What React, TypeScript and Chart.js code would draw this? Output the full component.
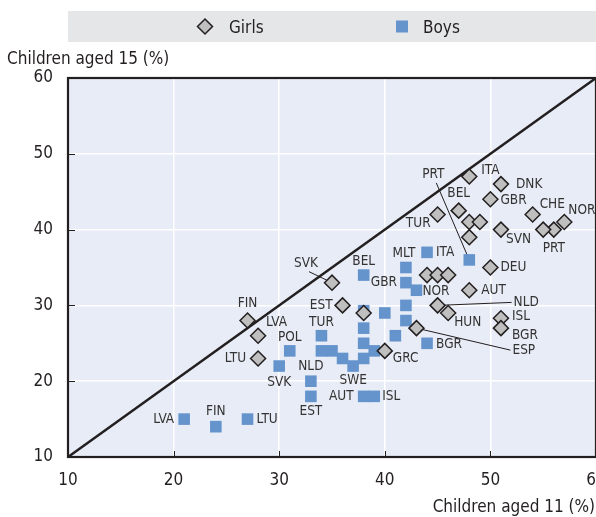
import React, { useEffect, useRef } from "react";
import { Chart, registerables } from "chart.js";

Chart.register(...registerables);

const FONT = "'DejaVu Sans Condensed', 'Liberation Sans Narrow', 'Arial Narrow', sans-serif";

// ---------- data ----------
const seriesNames = ["Girls", "Boys"];
const xAxisTitle = "Children aged 11 (%)";
const yAxisTitle = "Children aged 15 (%)";
const axisMin = 10;
const axisMax = 60;
const axisStep = 10;
const parityLine = [10, 60];

const girlsCountries = [
  "ITA", "DNK", "GBR", "CHE", "NOR", "PRT", "", "SVN", "BEL", "", "", "TUR", "", "DEU", "", "", "",
  "AUT", "NLD", "HUN", "ISL", "BGR", "ESP", "GRC", "", "SVK", "EST", "FIN", "LVA", "LTU",
];
const girlsAge11 = [48, 51, 50, 54, 57, 56, 55, 51, 47, 48, 49, 45, 48, 50, 44, 45, 46, 48, 45, 46, 51, 51, 43, 40, 38, 35, 36, 27, 28, 28];
const girlsAge15 = [47, 46, 44, 42, 41, 40, 40, 40, 42.5, 41, 41, 42, 39, 35, 34, 34, 34, 32, 30, 29, 28.3, 27, 27, 24, 29, 33, 30, 28, 26, 23];

const boysCountries = [
  "PRT", "ITA", "MLT", "BEL", "GBR", "NOR", "", "", "", "", "", "", "BGR", "", "", "", "TUR", "", "", "",
  "SWE", "POL", "SVK", "NLD", "EST", "AUT", "ISL", "LVA", "FIN", "LTU",
];
const boysAge11 = [48, 44, 42, 38, 42, 43, 42, 40, 38, 42, 38, 41, 44, 38, 39, 38, 34, 34, 35, 36, 37, 31, 30, 33, 33, 38, 39, 21, 24, 27];
const boysAge15 = [36, 37, 35, 34, 33, 32, 30, 29, 29.3, 28, 27, 26, 25, 25, 24, 23, 26, 24, 24, 23, 22, 24, 22, 20, 18, 18, 18, 15, 14, 15];

// ---------- label placement (pixel offsets from the marker) ----------
type Place = [number, number, CanvasTextAlign, boolean] | null;
const girlsLabelPlace: Place[] = [
  [12, -6, "left", false], [15, 0, "left", false], [10, 1, "left", false], [7, -10, "left", false],
  [4, -12, "left", false], [0, 19, "center", false], null, [5, 10, "left", false],
  [0, -17, "center", false], null, null, [-7, 9, "right", false], null, [10, 0, "left", false],
  null, null, null, [12, 0, "left", false], [76, -3, "left", true], [6, 10, "left", false],
  [11, -2, "left", false], [11, 7, "left", false], [96, 22, "left", true], [8, 8, "left", false],
  null, [-26, -19, "center", true], [-10, 0, "right", false], [0, -17, "center", false],
  [8, -13, "left", false], [-12, 0, "right", false],
];
const boysLabelPlace: Place[] = [
  [-36, -85, "center", true], [9, 0, "left", false], [-2, -14, "center", false], [0, -14, "center", false],
  [-9, 0, "right", false], [6, 1, "left", false], null, null, null, null, null, null,
  [9, 1, "left", false], null, null, null, [0, -13, "center", false], null, null, null,
  [0, 14, "center", false], [0, -13, "center", false], [0, 16, "center", false], [0, -15, "center", false],
  [0, 15, "center", false], [-10, 0, "right", false], [8, 0, "left", false], [-10, 0, "right", false],
  [0, -15, "center", false], [9, 0, "left", false],
];

// ---------- styles ----------
const GIRL_FILL = "#bfbfbf";
const DARK = "#231f20";
const BOY_FILL = "#6594cd";
const PLOT_BG = "#e8ecf6";
const LEGEND_BG = "#e5e6e7";
const TEXT = "#333333";

const W = 596;
const H = 517;

const toPoints = (xs: number[], ys: number[]) => xs.map((x, i) => ({ x, y: ys[i] }));

const decorPlugin = {
  id: "decor",
  beforeDraw(chart: any) {
    const { ctx, chartArea: a } = chart;
    ctx.save();
    ctx.fillStyle = "#ffffff";
    ctx.fillRect(0, 0, chart.width, chart.height);
    ctx.fillStyle = LEGEND_BG;
    ctx.fillRect(68, 11, chart.width - 68, 31);
    ctx.fillStyle = PLOT_BG;
    ctx.fillRect(a.left, a.top, a.right - a.left, a.bottom - a.top);
    ctx.restore();
  },
  beforeDatasetsDraw(chart: any) {
    const { ctx } = chart;
    ctx.save();
    ctx.strokeStyle = DARK;
    ctx.lineWidth = 1;
    const lead = (dsIndex: number, places: Place[]) => {
      const meta = chart.getDatasetMeta(dsIndex);
      places.forEach((p, i) => {
        if (!p || !p[3]) return;
        const el = meta.data[i];
        const lx = el.x + p[0];
        const ly = el.y + p[1];
        const ex = p[2] === "left" ? lx - 2 : lx + 3;
        const ey = p[2] === "left" ? ly : ly + 8;
        ctx.beginPath();
        ctx.moveTo(el.x, el.y);
        ctx.lineTo(ex, ey);
        ctx.stroke();
      });
    };
    lead(0, girlsLabelPlace);
    lead(1, boysLabelPlace);
    ctx.restore();
  },
  afterDatasetsDraw(chart: any) {
    const { ctx } = chart;
    ctx.save();
    ctx.font = `13.5px ${FONT}`;
    ctx.fillStyle = TEXT;
    ctx.textBaseline = "middle";
    const draw = (dsIndex: number, names: string[], places: Place[]) => {
      const meta = chart.getDatasetMeta(dsIndex);
      names.forEach((name, i) => {
        const p = places[i];
        if (!name || !p) return;
        const el = meta.data[i];
        ctx.textAlign = p[2];
        ctx.fillText(name, el.x + p[0], el.y + p[1]);
      });
    };
    draw(0, girlsCountries, girlsLabelPlace);
    draw(1, boysCountries, boysLabelPlace);
    ctx.restore();
  },
  afterDraw(chart: any) {
    const { ctx, chartArea: a, scales } = chart;
    ctx.save();
    // inward ticks
    ctx.strokeStyle = DARK;
    ctx.lineWidth = 1;
    for (let v = axisMin + axisStep; v < axisMax; v += axisStep) {
      const px = Math.round(scales.x.getPixelForValue(v)) + 0.5;
      ctx.beginPath();
      ctx.moveTo(px, a.bottom);
      ctx.lineTo(px, a.bottom - 6);
      ctx.stroke();
      const py = Math.round(scales.y.getPixelForValue(v)) + 0.5;
      ctx.beginPath();
      ctx.moveTo(a.left, py);
      ctx.lineTo(a.left + 7, py);
      ctx.stroke();
    }
    // frame
    ctx.lineWidth = 2.2;
    ctx.strokeStyle = DARK;
    ctx.strokeRect(a.left, a.top, a.right - a.left, a.bottom - a.top);

    // axis titles
    ctx.fillStyle = DARK;
    ctx.font = `17px ${FONT}`;
    ctx.textBaseline = "alphabetic";
    ctx.textAlign = "left";
    ctx.fillText(yAxisTitle, 7, 64);
    ctx.textAlign = "right";
    ctx.fillText(xAxisTitle, 595, 512);

    // legend
    const ly = 26.5;
    ctx.beginPath();
    const r = 7.5;
    ctx.moveTo(205 - r, ly);
    ctx.lineTo(205, ly - r);
    ctx.lineTo(205 + r, ly);
    ctx.lineTo(205, ly + r);
    ctx.closePath();
    ctx.fillStyle = GIRL_FILL;
    ctx.fill();
    ctx.lineWidth = 1.5;
    ctx.strokeStyle = DARK;
    ctx.stroke();
    ctx.fillStyle = BOY_FILL;
    ctx.fillRect(396, ly - 6, 12, 12);
    ctx.fillStyle = DARK;
    ctx.textAlign = "left";
    ctx.fillText(seriesNames[0], 229, 33);
    ctx.fillText(seriesNames[1], 423, 33);
    ctx.restore();
  },
};

export default function App() {
  const ref = useRef<HTMLCanvasElement | null>(null);

  useEffect(() => {
    document.body.style.margin = "0";
    const canvas = ref.current;
    if (!canvas) return;
    const tickFont = { family: FONT, size: 17 };
    const chart = new Chart(canvas, {
      type: "scatter",
      data: {
        datasets: [
          {
            label: seriesNames[0],
            data: toPoints(girlsAge11, girlsAge15),
            pointStyle: "rectRot",
            pointRadius: 7.5,
            backgroundColor: GIRL_FILL,
            borderColor: DARK,
            borderWidth: 1.5,
            clip: false,
          },
          {
            label: seriesNames[1],
            data: toPoints(boysAge11, boysAge15),
            pointStyle: "rect",
            pointRadius: 8.2,
            backgroundColor: BOY_FILL,
            borderWidth: 0,
            clip: false,
          },
          {
            type: "line",
            label: "parity",
            data: toPoints(parityLine, parityLine),
            borderColor: DARK,
            borderWidth: 2.5,
            pointRadius: 0,
            fill: false,
          } as any,
        ],
      },
      options: {
        responsive: false,
        animation: false,
        devicePixelRatio: 1,
        events: [],
        layout: { autoPadding: false, padding: { top: 78, left: 0, right: 0, bottom: 0 } },
        plugins: { legend: { display: false }, tooltip: { enabled: false }, title: { display: false } },
        scales: {
          x: {
            type: "linear",
            min: axisMin,
            max: axisMax,
            grid: { color: "#ffffff", lineWidth: 1.5, drawTicks: false },
            border: { display: false },
            ticks: { stepSize: axisStep, font: tickFont, color: DARK, padding: 13 },
            afterFit: (s: any) => {
              s.height = H - 457;
              s.paddingLeft = 0;
              s.paddingRight = 0;
            },
          },
          y: {
            type: "linear",
            min: axisMin,
            max: axisMax,
            grid: { color: "#ffffff", lineWidth: 1.5, drawTicks: false },
            border: { display: false },
            ticks: { stepSize: axisStep, font: tickFont, color: DARK, padding: 15 },
            afterFit: (s: any) => {
              s.width = 68;
              s.paddingTop = 0;
              s.paddingBottom = 0;
            },
          },
        },
      },
      plugins: [decorPlugin],
    } as any);
    return () => chart.destroy();
  }, []);

  return (
    <div style={{ width: W, height: H }}>
      <canvas ref={ref} width={W} height={H} style={{ display: "block" }} />
    </div>
  );
}
